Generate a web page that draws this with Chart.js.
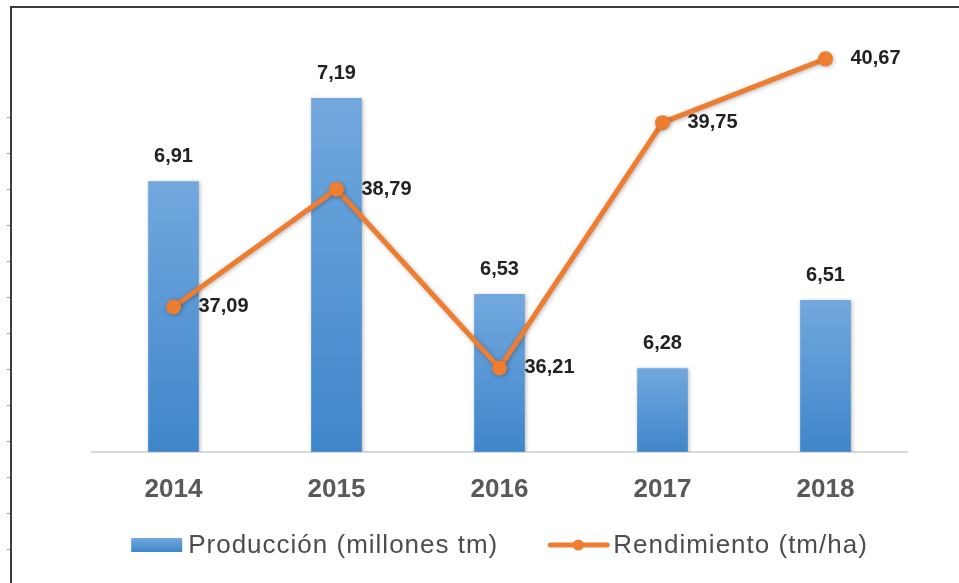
<!DOCTYPE html>
<html>
<head>
<meta charset="utf-8">
<script src="https://cdn.jsdelivr.net/npm/chart.js@4.4.1/dist/chart.umd.min.js"></script>
<style>
    html, body { margin: 0; padding: 0; background: #fff; }
    #wrap { width: 959px; height: 583px; position: relative; }
</style>
</head>
<body>
<div id="wrap"><canvas id="chart"></canvas></div>
<script>
/* ================= DATA ================= */
const years = ["2014", "2015", "2016", "2017", "2018"];
const produccion = [6.91, 7.19, 6.53, 6.28, 6.51];
const rendimiento = [37.09, 38.79, 36.21, 39.75, 40.67];
const seriesNames = ["Producción (millones tm)", "Rendimiento (tm/ha)"];

/* ================= STYLE ================= */
const ORANGE = "#ed7d31";
const BLUE_TOP = "#72a8de";
const BLUE_BOTTOM = "#3f86ca";
const FONT = "'Liberation Sans', Arial, sans-serif";

const fmt = v => v.toFixed(2).replace(".", ",");

/* per-bar vertical gradient */
function barGradient(ctx) {
    const chart = ctx.chart;
    const y = chart.scales.y;
    if (!y || ctx.dataIndex === undefined) return BLUE_BOTTOM;
    const top = y.getPixelForValue(ctx.raw);
    const bottom = y.getPixelForValue(y.min);
    if (!isFinite(top) || !isFinite(bottom) || bottom <= top) return BLUE_BOTTOM;
    const g = chart.ctx.createLinearGradient(0, top, 0, bottom);
    g.addColorStop(0, BLUE_TOP);
    g.addColorStop(1, BLUE_BOTTOM);
    return g;
}

/* ================= PLUGINS ================= */
const framePlugin = {
    id: "frame",
    beforeDraw(chart) {
        const ctx = chart.ctx;
        ctx.save();
        ctx.fillStyle = "#fff";
        ctx.fillRect(0, 0, chart.width, chart.height);
        ctx.strokeStyle = "#3c3c3c";
        ctx.lineWidth = 2;
        ctx.beginPath();
        ctx.moveTo(11, chart.height);
        ctx.lineTo(11, 7);
        ctx.lineTo(chart.width, 7);
        ctx.stroke();
        // faint ticks on the left edge
        ctx.strokeStyle = "#9a9a9a";
        ctx.lineWidth = 1;
        for (let y = 117; y < chart.height; y += 36) {
            ctx.beginPath();
            ctx.moveTo(7, y + 0.5);
            ctx.lineTo(10, y + 0.5);
            ctx.stroke();
        }
        ctx.restore();
    }
};

const shadowPlugin = {
    id: "shadow",
    beforeDatasetDraw(chart) {
        const ctx = chart.ctx;
        ctx.save();
        ctx.shadowColor = "rgba(0,0,0,0.28)";
        ctx.shadowBlur = 4;
        ctx.shadowOffsetX = 1;
        ctx.shadowOffsetY = 1;
    },
    afterDatasetDraw(chart) {
        chart.ctx.restore();
    }
};

const labelPlugin = {
    id: "valueLabels",
    afterDatasetsDraw(chart) {
        const ctx = chart.ctx;
        ctx.save();
        ctx.font = "bold 20px " + FONT;
        ctx.fillStyle = "#222";
        ctx.textBaseline = "middle";
        chart.data.datasets.forEach((ds, i) => {
            const meta = chart.getDatasetMeta(i);
            meta.data.forEach((el, j) => {
                const txt = fmt(ds.data[j]);
                if (ds.type === "line") {
                    ctx.textAlign = "left";
                    ctx.fillText(txt, el.x + 25, el.y);
                } else {
                    ctx.textAlign = "center";
                    ctx.fillText(txt, el.x, el.y - 25);
                }
            });
        });
        ctx.restore();
    }
};

const legendPlugin = {
    id: "customLegend",
    afterDraw(chart) {
        const ctx = chart.ctx;
        const area = chart.chartArea;
        const y = 545;
        ctx.save();
        ctx.font = "26px " + FONT;
        if ("letterSpacing" in ctx) ctx.letterSpacing = "1px";
        ctx.textBaseline = "middle";

        const boxW = 51, gap = 6, itemGap = 52;
        const w0 = ctx.measureText(seriesNames[0]).width;
        const w1 = ctx.measureText(seriesNames[1]).width;
        const total = boxW + gap + w0 + itemGap + 57 + gap + w1;
        let x = (area.left + area.right) / 2 - total / 2;

        // bar item
        const g = ctx.createLinearGradient(0, y - 7, 0, y + 7);
        g.addColorStop(0, BLUE_TOP);
        g.addColorStop(1, BLUE_BOTTOM);
        ctx.fillStyle = g;
        ctx.fillRect(x, y - 7, boxW, 14);
        x += boxW + gap;
        ctx.fillStyle = "#4d4d4d";
        ctx.textAlign = "left";
        ctx.fillText(seriesNames[0], x, y + 1);
        x += w0 + itemGap;

        // line item
        ctx.strokeStyle = ORANGE;
        ctx.lineWidth = 5;
        ctx.lineCap = "round";
        ctx.beginPath();
        ctx.moveTo(x, y);
        ctx.lineTo(x + 57, y);
        ctx.stroke();
        ctx.fillStyle = ORANGE;
        ctx.beginPath();
        ctx.arc(x + 28, y, 5.5, 0, Math.PI * 2);
        ctx.fill();
        x += 57 + gap;
        ctx.fillStyle = "#4d4d4d";
        ctx.fillText(seriesNames[1], x, y + 1);
        ctx.restore();
    }
};

/* ================= CHART ================= */
new Chart(document.getElementById("chart"), {
    type: "bar",
    data: {
        labels: years,
        datasets: [
            {
                type: "line",
                label: seriesNames[1],
                data: rendimiento,
                yAxisID: "y1",
                borderColor: ORANGE,
                backgroundColor: ORANGE,
                borderWidth: 5,
                pointRadius: 7.5,
                pointBackgroundColor: ORANGE,
                pointBorderWidth: 0,
                tension: 0,
                order: 0
            },
            {
                type: "bar",
                label: seriesNames[0],
                data: produccion,
                yAxisID: "y",
                backgroundColor: barGradient,
                borderWidth: 0,
                barThickness: 50,
                order: 1
            }
        ]
    },
    options: {
        responsive: true,
        maintainAspectRatio: false,
        animation: false,
        layout: { padding: { left: 92, right: 52, top: 36, bottom: 56 } },
        plugins: {
            legend: { display: false },
            tooltip: { enabled: false }
        },
        scales: {
            x: {
                offset: true,
                grid: { display: false, drawTicks: false },
                border: { display: true, color: "#d9d9d9", width: 2 },
                ticks: {
                    color: "#595959",
                    padding: 22,
                    font: { family: FONT, size: 26, weight: "bold" }
                }
            },
            y: { display: false, min: 6, max: 7.4 },
            y1: { display: false, min: 35, max: 41, position: "right" }
        }
    },
    plugins: [framePlugin, shadowPlugin, labelPlugin, legendPlugin]
});
</script>
</body>
</html>
